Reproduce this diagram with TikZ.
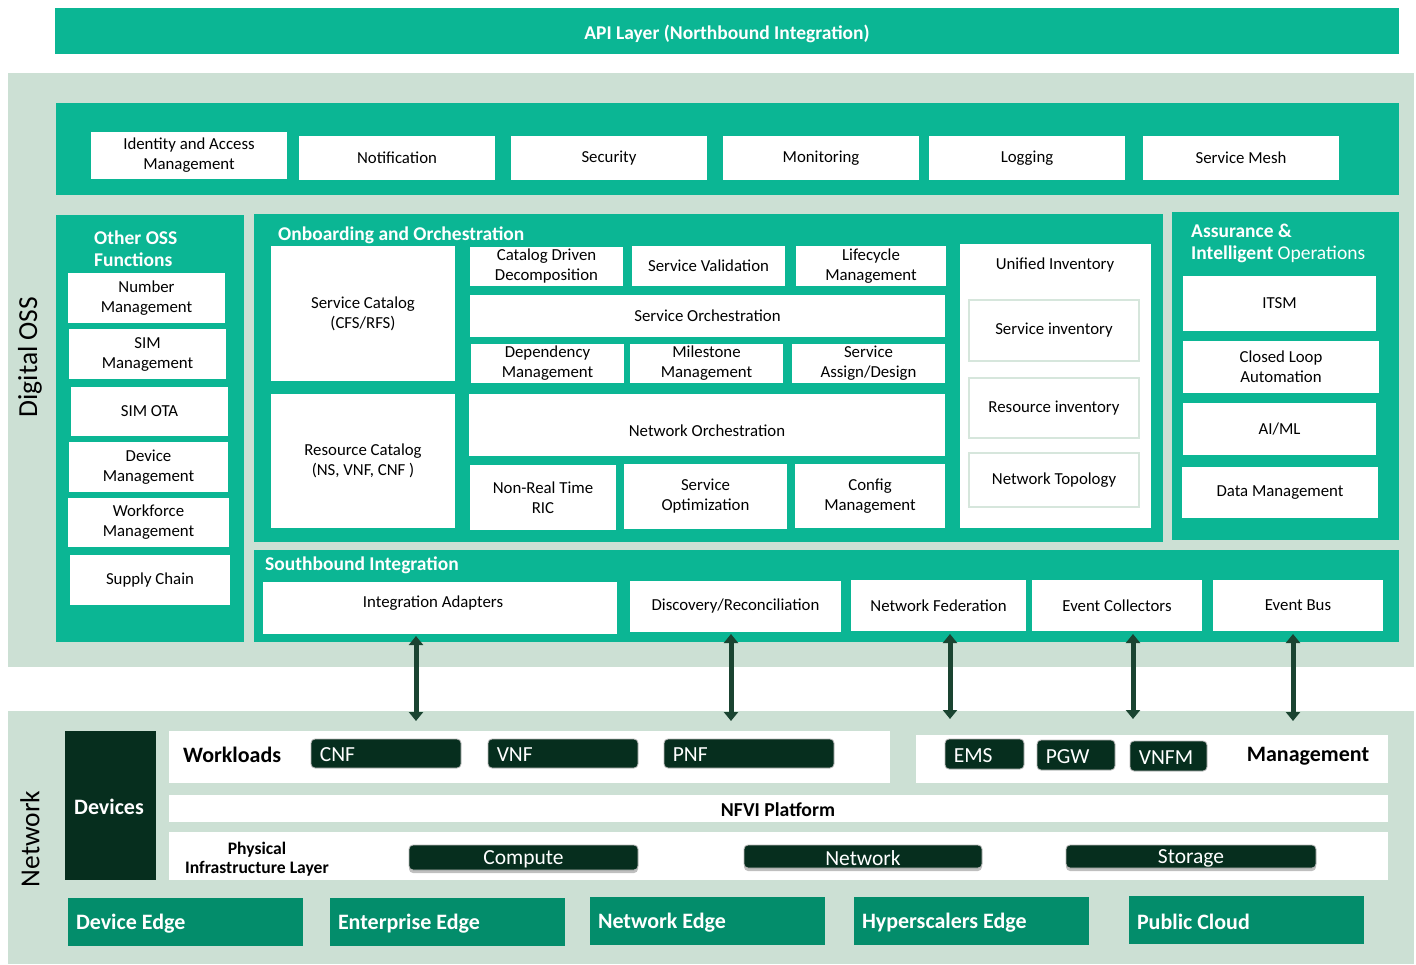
\documentclass[tikz,border=0pt]{standalone}
\usepackage{fontspec}
\setmainfont{Carlito}
\usetikzlibrary{arrows.meta,shadows}
\definecolor{teal1}{RGB}{11,182,148}
\definecolor{lightbg}{RGB}{204,224,212}
\definecolor{darkg}{RGB}{6,46,30}
\definecolor{arrowc}{RGB}{26,68,49}
\definecolor{edgec}{RGB}{3,141,107}
\definecolor{invb}{RGB}{214,230,220}
\tikzset{
  panel/.style={fill=teal1, inner sep=0pt},
  bgpanel/.style={fill=lightbg, inner sep=0pt},
  wb/.style={fill=white, inner sep=2pt, align=center, text=black, font=\fontsize{16.8}{20}\selectfont},
  invbox/.style={wb, draw=invb, line width=1.5pt},
  wplain/.style={fill=white, inner sep=0pt},
  txt/.style={inner sep=0pt, align=center, text=black, font=\fontsize{16.8}{20}\selectfont},
  ttl/.style={anchor=west, text=white, inner sep=0pt, align=left, yshift=-2pt, font=\bfseries\fontsize{19.5}{22}\selectfont},
  dk/.style={fill=darkg, rounded corners=4pt, draw=gray!55, line width=0.8pt, inner sep=0pt},
  dkshadow/.style={dk, drop shadow={shadow xshift=0pt, shadow yshift=-3pt, opacity=0.25, fill=black}},
  dktxt/.style={text=white, inner sep=0pt, yshift=-1.5pt, font=\fontsize{21.5}{24}\selectfont},
  edgebox/.style={fill=edgec, inner sep=0pt},
  edgetxt/.style={anchor=west, text=white, inner sep=0pt, yshift=-2pt, font=\bfseries\fontsize{22}{26}\selectfont},
  blk/.style={text=black, inner sep=0pt, yshift=-1pt, font=\bfseries\fontsize{22}{26}\selectfont},
  rot/.style={rotate=90, text=black, inner sep=0pt, font=\fontsize{27.5}{32}\selectfont},
  arr/.style={{Triangle[width=14pt,length=9pt]}-{Triangle[width=14pt,length=9pt]}, line width=5pt, draw=arrowc},
}
\newcommand\bx[7]{\node[#6, minimum width=#4pt-#2pt, minimum height=#5pt-#3pt] (#1) at ({(#2+#4)/2},{(#3+#5)/2}) {#7};}
\newcommand\dkl[6]{\node[dk, minimum width=#4pt-#2pt, minimum height=#5pt-#3pt] (#1) at ({(#2+#4)/2},{(#3+#5)/2}) {};
  \node[dktxt, anchor=west] (#1t) at ([xshift=9pt]#1.west) {#6};}
\newcommand\dkc[6]{\node[dkshadow, minimum width=#4pt-#2pt, minimum height=#5pt-#3pt] (#1) at ({(#2+#4)/2},{(#3+#5)/2}) {};
  \node[dktxt] (#1t) at (#1.center) {#6};}
\newcommand\edg[6]{\node[edgebox, minimum width=#4pt-#2pt, minimum height=#5pt-#3pt] (#1) at ({(#2+#4)/2},{(#3+#5)/2}) {};
  \node[edgetxt] (#1t) at ([xshift=8pt]#1.west) {#6};}
\begin{document}
\begin{tikzpicture}[x=1pt,y=-1pt]
\useasboundingbox (0,0) rectangle (1416,964);
\fill[white] (0,0) rectangle (1416,964);
% API layer
\bx{api}{55}{8}{1399}{54}{panel}{}
\node[text=white, inner sep=0pt, font=\bfseries\fontsize{19.5}{22}\selectfont] (apiT) at (727,34) {API Layer (Northbound Integration)};
% Digital OSS background
\bx{oss}{8}{73}{1414}{667}{bgpanel}{}
\node[rot] (ossT) at (30,357) {Digital OSS};
% common services band
\bx{band}{56}{103}{1399}{195}{panel}{}
\bx{iam}{91}{132}{287}{179}{wb}{Identity and Access\\Management}
\bx{noti}{299}{136}{495}{180}{wb}{Notification}
\bx{sec}{511}{136}{707}{180}{wb}{Security}
\bx{mon}{723}{136}{919}{180}{wb}{Monitoring}
\bx{log}{929}{136}{1125}{180}{wb}{Logging}
\bx{mesh}{1143}{136}{1339}{180}{wb}{Service Mesh}
% Other OSS functions
\bx{other}{56}{215}{244}{642}{panel}{}
\node[ttl] (otherT) at (94,247) {Other OSS\\Functions};
\bx{num}{68}{273}{225}{323}{wb}{Number\\Management}
\bx{sim}{69}{329}{226}{379}{wb}{SIM\\Management}
\bx{ota}{71}{387}{228}{436}{wb}{SIM OTA}
\bx{dev}{69}{442}{228}{492}{wb}{Device\\Management}
\bx{work}{68}{498}{229}{547}{wb}{Workforce\\Management}
\bx{sup}{70}{555}{230}{605}{wb}{Supply Chain}
% Onboarding and orchestration
\bx{onb}{254}{214}{1163}{542}{panel}{}
\node[ttl] (onbT) at (278,233) {Onboarding and Orchestration};
\bx{scat}{271}{246}{455}{381}{wb}{Service Catalog\\(CFS/RFS)}
\bx{rcat}{271}{394}{455}{528}{wb}{Resource Catalog\\(NS, VNF, CNF )}
\bx{cdd}{470}{247}{623}{286}{wb}{Catalog Driven\\Decomposition}
\bx{sval}{632}{246}{785}{286}{wb}{Service Validation}
\bx{lcm}{796}{246}{946}{286}{wb}{Lifecycle\\Management}
\bx{sorch}{470}{295}{945}{337}{wb}{Service Orchestration}
\bx{dep}{471}{344}{624}{383}{wb}{Dependency\\Management}
\bx{mile}{630}{344}{783}{383}{wb}{Milestone\\Management}
\bx{sad}{792}{344}{945}{383}{wb}{Service\\Assign/Design}
\bx{norch}{469}{394}{945}{456}{wb}{}
\node[txt] (norchT) at (707,431) {Network Orchestration};
\bx{ric}{470}{465}{616}{530}{wb}{Non-Real Time\\RIC}
\bx{sopt}{624}{464}{787}{529}{wb}{Service\\Optimization}
\bx{cfg}{795}{464}{945}{528}{wb}{Config\\Management}
\bx{uinv}{960}{244}{1151}{528}{wplain}{}
\node[txt] (uinvT) at (1055,265) {Unified Inventory};
\bx{sinv}{969}{300}{1139}{361}{invbox}{Service inventory}
\bx{rinv}{969}{378}{1139}{438}{invbox}{Resource inventory}
\bx{ntop}{969}{453}{1139}{507}{invbox}{Network Topology}
% Assurance
\bx{asr}{1172}{212}{1399}{540}{panel}{}
\node[ttl] (asrT) at (1191,241) {Assurance \&\\Intelligent \mdseries Operations};
\bx{itsm}{1183}{276}{1376}{331}{wb}{ITSM}
\bx{cla}{1183}{341}{1379}{393}{wb}{Closed Loop\\Automation}
\bx{aiml}{1183}{403}{1376}{455}{wb}{AI/ML}
\bx{dm}{1182}{467}{1378}{518}{wb}{Data Management}
% Southbound
\bx{sb}{254}{550}{1399}{642}{panel}{}
\node[ttl] (sbT) at (265,563) {Southbound Integration};
\bx{ia}{263}{582}{617}{634}{wb}{}
\node[txt] (iaT) at (433,603) {Integration Adapters};
\bx{disc}{630}{581}{841}{632}{wb}{Discovery/Reconciliation}
\bx{nfed}{851}{580}{1026}{631}{wb}{Network Federation}
\bx{evc}{1032}{580}{1202}{631}{wb}{Event Collectors}
\bx{evb}{1213}{580}{1383}{631}{wb}{Event Bus}
% Network background
\bx{net}{8}{711}{1414}{964}{bgpanel}{}
\node[rot] (netT) at (30,839) {Network};
% arrows
\coordinate (a1t) at (416,636); \coordinate (a1b) at (416,721);
\coordinate (a2t) at (731,634); \coordinate (a2b) at (731,721);
\coordinate (a3t) at (950,634); \coordinate (a3b) at (950,719);
\coordinate (a4t) at (1133,634); \coordinate (a4b) at (1133,719);
\coordinate (a5t) at (1293,634); \coordinate (a5b) at (1293,721);
\draw[arr] (a1t) -- (a1b);
\draw[arr] (a2t) -- (a2b);
\draw[arr] (a3t) -- (a3b);
\draw[arr] (a4t) -- (a4b);
\draw[arr] (a5t) -- (a5b);
% Devices
\bx{devs}{65}{731}{156}{880}{fill=darkg, inner sep=0pt}{}
\node[blk, text=white] (devsT) at (109,806) {Devices};
% Workloads
\bx{wl}{169}{731}{890}{783}{wplain}{}
\node[blk, anchor=west] (wlT) at (183,754) {Workloads};
\dkl{cnf}{311}{739}{461}{768}{CNF}
\dkl{vnf}{488}{739}{638}{768}{VNF}
\dkl{pnf}{664}{739}{834}{768}{PNF}
% Management
\bx{mg}{916}{735}{1388}{783}{wplain}{}
\dkl{ems}{945}{739}{1024}{769}{EMS}
\dkl{pgw}{1037}{740}{1115}{770}{PGW}
\dkl{vnfm}{1130}{741}{1207}{771}{VNFM}
\node[blk] (mgT) at (1308,755) {Management};
% NFVI
\bx{nfvi}{169}{795}{1388}{822}{wplain}{}
\node[blk, font=\bfseries\fontsize{19.7}{22}\selectfont] (nfviT) at (778,809) {NFVI Platform};
% Physical
\bx{phy}{169}{832}{1388}{880}{wplain}{}
\node[blk, align=center, font=\bfseries\fontsize{17.6}{19}\selectfont] (phyT) at (257,858) {Physical\\Infrastructure Layer};
\dkc{comp}{409}{845}{638}{870}{Compute}
\dkc{netw}{744}{845}{982}{868}{Network}
\dkc{stor}{1066}{845}{1316}{868}{Storage}
% Edges
\edg{de}{68}{898}{303}{946}{Device Edge}
\edg{ee}{330}{898}{565}{946}{Enterprise Edge}
\edg{ne}{590}{897}{825}{945}{Network Edge}
\edg{he}{854}{897}{1089}{945}{Hyperscalers Edge}
\edg{pc}{1129}{896}{1364}{944}{Public Cloud}
\end{tikzpicture}
\end{document}
